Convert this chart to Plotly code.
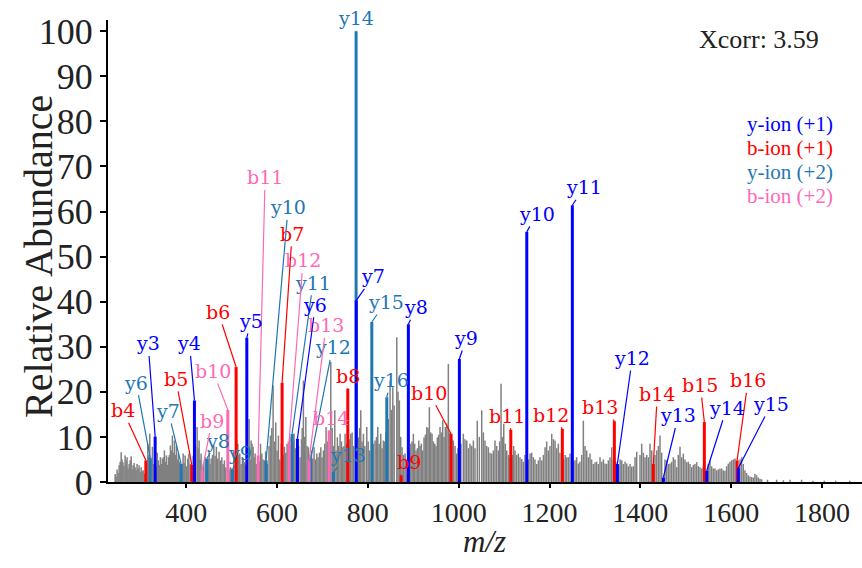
import plotly.graph_objects as go

# ---------------- data ----------------
# background (unassigned) peaks: m/z and relative abundance
gray_mz = [243.7, 248, 252.5, 257, 261, 265.7, 270, 274.5, 279, 283.3, 287.7, 292, 296.5, 301, 305.4,
           315.7, 320, 325.8, 339, 343.4, 347.8, 352.2, 356.6, 361, 365.4, 369.8, 374.2, 378.6, 383,
           393.4, 397.8, 403.7, 424.2, 428.6, 433, 441.8, 450.6, 455, 461, 466.7, 472.6, 478.6, 484.3,
           497.5, 505, 513.8, 518.2, 524, 528.3, 538.7, 543, 547.5, 551.9, 566.6, 572.3, 585.6, 591.5,
           597.4, 603.2, 616.4, 622.3, 628.2, 637.7, 650.9, 658.2, 663.5, 669.2, 681.7, 687.7,
           696.5, 702.2, 708.1, 718.5, 727.3, 733, 739, 744.9, 750, 762.5, 779.2, 784.5, 790.3, 797.7,
           816, 821.9, 828.5, 834.3, 849, 855, 863.8, 869.5, 875.4, 882, 894.6, 900.3, 906.2, 912.2,
           917.9, 923.8, 929.8, 935.5, 941.4, 947.4, 953.1, 959, 964.9, 970.7, 977.3, 988.3, 995.8,
           1010.3, 1017.8, 1025, 1032.4, 1041, 1050.8, 1058, 1065.4, 1072.8, 1080, 1087.4, 1093.3,
           1099.3, 1105.9, 1124.1, 1131.4, 1138.9, 1157.2, 1164.4, 1175.4, 1182.9, 1190.2, 1197.4,
           1204.9, 1212.2, 1219.4, 1237.9, 1245.2, 1256.2, 1263.5, 1274.5, 1281.9, 1289.2, 1300.2,
           1311.2, 1322.2, 1329.5, 1337, 1359, 1370, 1381, 1392, 1403, 1410.3, 1421.3, 1436, 1443.3,
           1458, 1465.3, 1472.6, 1480, 1487.3, 1494.6, 1502, 1513, 1524, 1531.3, 1553.3, 1560.6,
           1568, 1575.3, 1582.6, 1593.6, 1601, 1608.3, 1623, 1630.3, 1637.6, 1645, 1656, 1663.4,
           1700, 1729.5, 1755, 1861]
gray_int = [1.8, 2.8, 3.7, 6.6, 4.4, 5.9, 5.5, 4.0, 5.7, 3.7, 3.3, 4.0, 3.7, 3.3, 2.6,
            8.5, 10.7, 7.8, 4.8, 5.5, 5.2, 7.0, 5.9, 5.5, 8.1, 10.3, 9.2, 8.1, 6.3,
            6.3, 5.9, 5.2, 12.2, 9.2, 6.3, 5.5, 7.0, 5.2, 8.1, 7.8, 6.7, 5.5, 4.8,
            3.3, 7.0, 8.5, 6.3, 5.5, 4.4, 14.0, 9.2, 7.8, 6.3, 6.3, 4.8, 10.3, 21.4,
            13.2, 10.3, 7.8, 8.5, 10.0, 10.7, 5.5, 22.5, 14.4, 7.7, 7.7, 6.3,
            7.7, 7.0, 12.2, 26.6, 15.9, 9.9, 10.7, 7.7, 10.7, 10.7, 9.9, 15.9, 10.7, 12.2,
            9.2, 12.2, 10.7, 9.2, 22.5, 21.0, 32.1, 18.1, 7.7, 6.3, 8.5, 10.7, 7.0, 9.2,
            8.5, 9.9, 12.2, 16.6, 10.7, 8.5, 9.9, 12.2, 13.7, 12.2, 26.2, 9.2, 6.3,
            10.7, 9.2, 8.5, 9.2, 13.6, 15.9, 9.2, 7.7, 6.3, 9.2, 7.0, 21.8,
            12.9, 7.0, 7.0, 6.3, 5.1, 6.3, 5.5, 4.8, 4.8, 7.7, 7.0,
            10.7, 9.2, 8.5, 5.5, 6.3, 4.8, 4.1, 13.6, 7.0, 6.3, 4.4,
            5.5, 4.1, 4.8, 7.7, 4.8, 4.1, 3.4, 6.7, 8.5, 5.5, 8.5, 7.0, 10.3,
            4.8, 4.1, 5.5, 3.3, 7.8, 6.3, 4.4, 3.3, 4.4, 3.3, 4.8, 3.0,
            2.6, 3.0, 2.6, 4.1, 4.8, 5.2, 5.5, 2.6, 1.5, 1.1, 1.5, 0.7,
            0.5, 0.5, 0.5, 0.3]

# smaller background peaks between the ones above
minor_mz = [245.9, 250.2, 254.8, 259, 263.3, 268, 272.2, 276.8, 281.2, 285.5, 289.8, 294.2, 298.7,
            303.2, 308, 313, 317.8, 323, 329, 334, 336.5, 341.2, 345.6, 350, 354.4, 358.8, 363.2,
            367.6, 372, 376.4, 380.8, 386, 391.2, 395.6, 400.5, 406, 409, 415.5, 421, 426.4, 430.8,
            438, 444, 448.3, 452.8, 458, 463.8, 469.6, 475.6, 481.4, 487.4, 494.6, 500, 508, 511,
            516, 521, 526, 531, 535, 541, 545.2, 549.7, 554.3, 561, 563.8, 569.5, 575, 578.5, 582.5,
            588.6, 594.5, 600.3, 606.2, 609.5, 613.5, 619.4, 625.3, 631.1, 635.8, 640.2, 643.2,
            647.5, 653.9, 655.5, 661, 666.3, 672, 676, 678.8, 684.7, 690.5, 693.5, 699.3, 705.2,
            711, 713, 721.5, 724, 730.2, 736, 742, 747.5, 753, 759, 765.5, 768.8, 782, 787.4, 793.5,
            800.8, 804, 812.3, 819, 825, 831.4, 837, 840, 845, 852, 858, 866.6, 872.4, 878.7, 885,
            891.8, 897.5, 903.2, 909.2, 915, 920.8, 926.8, 932.6, 938.5, 944.4, 950.2, 956, 962,
            967.8, 974, 980.5, 985, 992, 998.5, 1005, 1014, 1021.5, 1028.7, 1036, 1045.5, 1054.4,
            1061.7, 1069, 1076.4, 1083.7, 1090.3, 1096.3, 1102.6, 1109.5, 1113, 1118, 1121, 1127.7,
            1135, 1142.5, 1146, 1153.6, 1160.8, 1168, 1171.8, 1179.1, 1186.5, 1193.8, 1201, 1208.5,
            1215.8, 1223, 1231, 1234.5, 1241.5, 1248.8, 1252.7, 1259.8, 1267, 1270.8, 1278.2, 1285.5,
            1292.8, 1296.5, 1303.8, 1307.5, 1315, 1318.7, 1325.8, 1333.2, 1340.5, 1346, 1352.5,
            1355.5, 1362.5, 1366.3, 1373.7, 1377.4, 1384.7, 1388.4, 1399.3, 1406.7, 1414, 1417.7,
            1425, 1432.3, 1439.7, 1447, 1454.3, 1461.6, 1469, 1476.3, 1483.6, 1491, 1498.3, 1505.6,
            1509.3, 1516.6, 1520.3, 1527.6, 1535, 1538.6, 1549.6, 1557, 1564.3, 1571.6, 1579,
            1586.3, 1590, 1597.3, 1604.6, 1619.3, 1626.6, 1634, 1641.3, 1648.6, 1652.3, 1659.7,
            1667, 1680, 1715, 1780, 1805, 1830]
minor_int = [1.2, 2.0, 4.5, 5.0, 3.6, 4.8, 3.0, 4.8, 2.8, 4.2, 2.6, 3.0, 2.2,
             2.4, 1.8, 3.5, 6.0, 5.0, 4.0, 3.5, 6.5, 3.8, 4.0, 5.5, 4.5, 3.8, 6.0,
             7.0, 6.5, 6.0, 5.0, 4.5, 3.8, 4.2, 3.5, 6.2, 4.0, 5.8, 8.0, 7.5, 5.0,
             4.0, 3.8, 5.0, 4.0, 6.0, 5.8, 5.2, 4.8, 4.0, 3.2, 2.8, 3.0, 5.0, 9.5,
             6.0, 4.0, 5.0, 3.8, 6.5, 5.0, 8.5, 5.5, 4.0, 4.5, 8.5, 5.0, 6.8, 4.0, 8.0,
             12.0, 9.0, 7.0, 5.0, 8.5, 6.0, 6.5, 7.0, 8.0, 9.0, 7.5, 6.0,
             8.0, 9.5, 12.0, 10.0, 8.0, 6.0, 7.0, 5.2, 5.0, 5.5, 6.5, 5.5, 8.5,
             9.0, 6.5, 12.0, 8.0, 7.0, 8.0, 9.0, 8.0, 8.5, 9.5, 11.0, 8.0, 12.0, 9.0, 8.0,
             9.0, 7.0, 8.5, 10.0, 8.5, 7.5, 9.0, 11.0, 14.0, 16.0, 17.0, 20.0, 10.0, 6.0, 5.0,
             7.0, 9.0, 8.5, 7.5, 8.0, 7.0, 10.5, 12.0, 11.0, 9.0, 8.0, 10.5, 11.0,
             10.0, 13.0, 11.0, 9.5, 8.0, 7.5, 8.5, 9.5, 7.5, 8.0, 7.5, 10.0, 11.0,
             8.0, 6.5, 7.0, 8.0, 9.0, 10.0, 8.5, 6.0, 5.5, 6.0, 8.0, 6.0,
             5.5, 4.5, 6.0, 5.0, 6.5, 5.0, 4.0, 5.5, 6.0, 9.0, 8.0, 9.5,
             7.5, 6.5, 5.0, 6.0, 5.5, 5.0, 4.5, 5.5, 4.5, 6.0, 8.0, 5.5,
             5.0, 4.0, 4.5, 4.0, 4.5, 5.0, 4.0, 5.5, 5.0, 4.5, 3.8,
             5.0, 4.0, 4.5, 3.5, 4.0, 3.5, 5.5, 6.0, 6.5, 6.0, 5.5,
             7.0, 6.0, 8.0, 6.5, 5.0, 4.0, 4.5, 5.0, 6.0, 5.5, 5.0, 4.5,
             4.0, 3.8, 4.0, 3.5, 3.0, 3.5, 4.0, 3.5, 3.0, 2.8, 3.0,
             2.5, 3.5, 4.5, 5.0, 5.0, 4.0, 2.0, 1.2, 1.0, 1.8, 1.0,
             0.6, 0.5, 0.4, 0.3, 0.3, 0.3]

# assigned fragment ions
y1_labels = ["y3", "y4", "y5", "y6", "y7", "y8", "y9", "y10", "y11", "y12", "y13", "y14", "y15"]
y1_mz = [331.8, 418.3, 533.6, 645.0, 774.6, 889.3, 1001.6, 1150.0, 1250.3, 1349.4, 1450.7, 1546.2, 1615.8]
y1_int = [10.1, 18.1, 32.0, 9.6, 40.3, 35.0, 27.3, 55.5, 61.4, 4.0, 1.0, 2.5, 3.1]

b1_labels = ["b4", "b5", "b6", "b7", "b8", "b9", "b10", "b11", "b12", "b13", "b14", "b15", "b16"]
b1_mz = [311.3, 412.5, 510.1, 611.3, 755.9, 873.3, 983.3, 1114.8, 1228.3, 1342.8, 1428.6, 1540.9, 1613.0]
b1_int = [4.8, 3.8, 25.5, 22.0, 20.7, 1.5, 10.7, 11.6, 11.8, 13.5, 4.0, 13.3, 4.8]

y2_labels = ["y6", "y7", "y8", "y9", "y10", "y11", "y12", "y13", "y14", "y15", "y16"]
y2_mz = [320.8, 389.0, 445.6, 501.9, 576.1, 633.3, 674.0, 724.2, 774.2, 808.8, 841.8]
y2_int = [5.4, 4.0, 5.2, 2.7, 4.8, 10.7, 5.0, 2.2, 100.0, 35.5, 18.8]

b2_labels = ["b9", "b10", "b11", "b12", "b13", "b14"]
b2_mz = [435.2, 491.8, 558.5, 626.7, 670.7, 714.8]
b2_int = [2.5, 16.0, 5.9, 9.0, 4.8, 11.4]

xcorr = 3.59
x_ticks = [400, 600, 800, 1000, 1200, 1400, 1600, 1800]
y_ticks = [0, 10, 20, 30, 40, 50, 60, 70, 80, 90, 100]

# ---------------- layout / style ----------------
# label offsets (pixels) from the peak top to the label centre
y1_off = [(-7, -93), (-5, -57), (4, -17), (18, -134), (17, -24), (8, -17), (7, -21), (10, -18),
          (12, -18), (15, -106), (15, -62), (20, -63), (33, -64)]
b1_off = [(-23, -50), (-16, -86), (-18, -55), (10, -149), (0, -13), (8, -13), (-22, -41), (-4, -14),
          (-11, -14), (-14, -14), (4, -70), (-4, -37), (11, -80)]
y2_off = [(-14, -75), (-13, -53), (11, -18), (8, -17), (22, -253), (21, -151), (22, -112), (15, -17),
          (0, -13), (14, -20), (4, -17)]
b2_off = [(10, -50), (-15, -39), (7, -278), (14, -181), (17, -135), (2, -13)]

C_Y1 = "#0000ff"
C_B1 = "#ff0000"
C_Y2 = "#1f77b4"
C_B2 = "#ff69b4"
C_GRAY = "#808080"

SERIF = "Liberation Serif"
LABEL_FONT = "DejaVu Serif"


def sticks(mz, inten):
    xs, ys = [], []
    for m, h in zip(mz, inten):
        xs += [m, m, None]
        ys += [0, h, None]
    return xs, ys


fig = go.Figure()

gx, gy = sticks(gray_mz + minor_mz, gray_int + minor_int)
fig.add_trace(go.Scatter(x=gx, y=gy, mode="lines", line=dict(color=C_GRAY, width=1.5),
                         hoverinfo="skip", showlegend=False))

series = [
    (y2_mz, y2_int, y2_labels, y2_off, C_Y2),
    (b2_mz, b2_int, b2_labels, b2_off, C_B2),
    (b1_mz, b1_int, b1_labels, b1_off, C_B1),
    (y1_mz, y1_int, y1_labels, y1_off, C_Y1),
]

annotations = []
for mz, inten, labels, offs, col in series:
    sx, sy = sticks(mz, inten)
    fig.add_trace(go.Scatter(x=sx, y=sy, mode="lines", line=dict(color=col, width=3),
                             hoverinfo="skip", showlegend=False))
    for m, h, lab, (dx, dy) in zip(mz, inten, labels, offs):
        annotations.append(dict(
            x=m, y=h, xref="x", yref="y", text=lab, showarrow=True, arrowhead=0,
            arrowwidth=1.2, arrowcolor=col, ax=dx, ay=dy, standoff=0, startstandoff=0,
            font=dict(family=LABEL_FONT, size=19, color=col)))

# titles, score and ion legend
annotations.append(dict(text="Relative Abundance", xref="paper", yref="paper",
                        x=-0.093, y=0.489, xanchor="center", yanchor="middle",
                        textangle=-90, showarrow=False,
                        font=dict(family=SERIF, size=40, color="#222")))
annotations.append(dict(text="<i>m/z</i>", xref="paper", yref="paper",
                        x=0.4987, y=-0.128, xanchor="center", yanchor="middle", showarrow=False,
                        font=dict(family=SERIF, size=31, color="#222")))
annotations.append(dict(text=f"Xcorr: {xcorr:.2f}", xref="paper", yref="paper",
                        x=0.781, y=0.957, xanchor="left", yanchor="middle", showarrow=False,
                        font=dict(family=SERIF, size=26, color="#222")))
legend_items = [("y-ion (+1)", C_Y1), ("b-ion (+1)", C_B1), ("y-ion (+2)", C_Y2), ("b-ion (+2)", C_B2)]
for i, (txt, col) in enumerate(legend_items):
    annotations.append(dict(text=txt, xref="paper", yref="paper", x=0.845, y=0.775 - i * 0.052,
                            xanchor="left", yanchor="middle", showarrow=False,
                            font=dict(family=SERIF, size=21, color=col)))

fig.update_layout(
    width=862, height=568,
    margin=dict(l=108, r=0, t=20, b=86),
    paper_bgcolor="white", plot_bgcolor="white",
    showlegend=False,
    annotations=annotations,
    xaxis=dict(range=[228, 1888], tickvals=x_ticks, ticks="outside", ticklen=4, tickwidth=2,
               tickcolor="black", showline=True, linecolor="black", linewidth=2,
               showgrid=False, zeroline=False,
               tickfont=dict(family=SERIF, size=28, color="#222")),
    yaxis=dict(range=[0, 102.5], tickvals=y_ticks, ticks="outside", ticklen=6, tickwidth=2,
               tickcolor="black", showline=True, linecolor="black", linewidth=2,
               showgrid=False, zeroline=False,
               tickfont=dict(family=SERIF, size=36, color="#222")),
)

fig.write_html("out.html")
